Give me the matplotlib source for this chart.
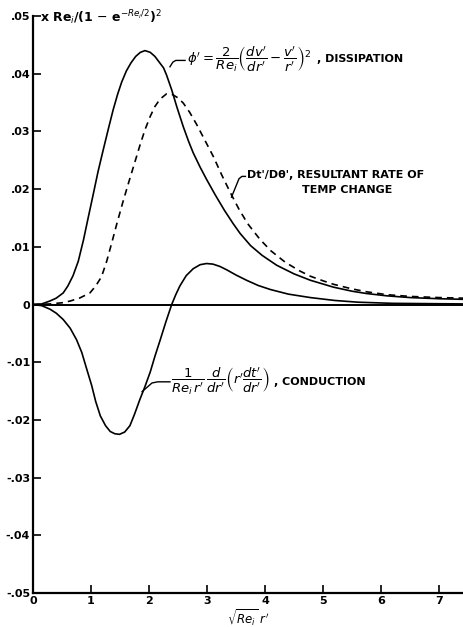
import numpy as np
import matplotlib
matplotlib.use("Agg")
import matplotlib.pyplot as plt

# values, x = sqrt(Re_i) r'
diss_x = [0, 0.15, 0.29, 0.40, 0.52, 0.60, 0.69, 0.78, 0.87, 0.95, 1.04, 1.12, 1.21, 1.30,
          1.38, 1.46, 1.53, 1.61, 1.69, 1.77, 1.85, 1.93, 2.02, 2.10, 2.19, 2.25, 2.30,
          2.39, 2.48, 2.59, 2.68, 2.76, 2.88, 2.99, 3.14, 3.30, 3.45, 3.57, 3.75, 3.95,
          4.20, 4.50, 4.78, 5.18, 5.50, 5.75, 6.10, 6.50, 7.00, 7.41]
diss_y = [0, 0.0001, 0.0006, 0.0011, 0.0020, 0.0032, 0.0050, 0.0075, 0.0112, 0.0150, 0.0192,
          0.0230, 0.0268, 0.0305, 0.0337, 0.0365, 0.0386, 0.0405, 0.0419, 0.0430, 0.0437,
          0.0440, 0.0437, 0.0430, 0.0418, 0.0410, 0.0398, 0.0372, 0.0342, 0.0308, 0.0283,
          0.0263, 0.0238, 0.0217, 0.0190, 0.0163, 0.0140, 0.0123, 0.0102, 0.0085, 0.0068,
          0.0053, 0.0042, 0.0030, 0.0023, 0.0019, 0.0015, 0.0012, 0.0010, 0.0009]

rate_x = [0, 0.30, 0.50, 0.64, 0.80, 0.98, 1.08, 1.18, 1.27, 1.36, 1.45, 1.55, 1.65, 1.75,
          1.84, 1.93, 2.02, 2.10, 2.19, 2.30, 2.40, 2.50, 2.59, 2.70, 2.82, 2.96, 3.11,
          3.25, 3.40, 3.55, 3.70, 3.91, 4.10, 4.35, 4.60, 4.78, 5.00, 5.18, 5.50, 5.75,
          6.10, 6.50, 7.00, 7.41]
rate_y = [0, 0.0001, 0.0003, 0.0006, 0.0011, 0.0020, 0.0032, 0.0048, 0.0075, 0.0108, 0.0142,
          0.0178, 0.0212, 0.0245, 0.0275, 0.0303, 0.0326, 0.0343, 0.0356, 0.0365, 0.0364,
          0.0358, 0.0349, 0.0333, 0.0312, 0.0285, 0.0256, 0.0225, 0.0194, 0.0165, 0.0140,
          0.0113, 0.0093, 0.0073, 0.0058, 0.0049, 0.0041, 0.0035, 0.0027, 0.0022, 0.0017,
          0.0014, 0.0012, 0.0011]

cond_x = [0, 0.15, 0.29, 0.40, 0.52, 0.64, 0.75, 0.84, 0.92, 1.01, 1.08, 1.16, 1.25, 1.33,
          1.41, 1.49, 1.58, 1.67, 1.75, 1.84, 1.93, 2.02, 2.10, 2.19, 2.29, 2.39, 2.46,
          2.53, 2.64, 2.76, 2.88, 2.99, 3.10, 3.22, 3.34, 3.50, 3.68, 3.88, 4.09, 4.40,
          4.78, 5.20, 5.60, 6.20, 7.41]
cond_y = [0, -0.0002, -0.0008, -0.0015, -0.0026, -0.0041, -0.0061, -0.0083, -0.0110, -0.0140,
          -0.0168, -0.0193, -0.0210, -0.0220, -0.0224, -0.0225, -0.0221, -0.0210, -0.0190,
          -0.0165, -0.0142, -0.0117, -0.0090, -0.0062, -0.0030, 0.0, 0.0017, 0.0032, 0.0050,
          0.0062, 0.0069, 0.0071, 0.0070, 0.0066, 0.0060, 0.0051, 0.0042, 0.0033, 0.0026,
          0.0018, 0.0012, 0.0007, 0.0004, 0.0002, 0.0001]

yticks = [-0.05, -0.04, -0.03, -0.02, -0.01, 0, 0.01, 0.02, 0.03, 0.04, 0.05]
ylabels = ['-.05', '-.04', '-.03', '-.02', '-.01', '0', '.01', '.02', '.03', '.04', '.05']
xticks = [0, 1, 2, 3, 4, 5, 6, 7]

plt.rcParams['mathtext.fontset'] = 'dejavusans'

fig = plt.figure(figsize=(4.63, 6.27), dpi=100)
ax = fig.add_axes([0.0713, 0.0542, 0.9287, 0.9203])

ax.plot(diss_x, diss_y, color='black', lw=1.2)
ax.plot(rate_x, rate_y, color='black', lw=1.2, ls=(0, (4, 3)))
ax.plot(cond_x, cond_y, color='black', lw=1.2)
ax.axhline(0, color='black', lw=1.4)

ax.set_xlim(0, 7.41)
ax.set_ylim(-0.05, 0.05)
ax.spines['top'].set_visible(False)
ax.spines['right'].set_visible(False)
ax.spines['left'].set_linewidth(1.6)
ax.spines['bottom'].set_linewidth(1.6)
ax.set_yticks(yticks)
ax.set_yticklabels(ylabels, fontsize=8, fontweight='bold')
ax.set_xticks(xticks)
ax.set_xticklabels([str(t) for t in xticks], fontsize=8, fontweight='bold')
ax.tick_params(axis='both', direction='in', length=6, width=1.2, pad=2)

ax.text(0.12, 0.0497, r"x Re$_i$/(1 $-$ e$^{-Re_i/2}$)$^2$", fontsize=9,
        fontweight='bold', va='center', ha='left')

# leaders and labels
ax.plot([2.36, 2.41, 2.46, 2.62], [0.0412, 0.0420, 0.0423, 0.0423], color='black', lw=1)
ax.text(2.65, 0.0425,
        r"$\phi' = \dfrac{2}{Re_i}\left(\dfrac{dv'}{dr'} - \dfrac{v'}{r'}\right)^2$",
        fontsize=9.5, va='center', ha='left')
ax.text(4.90, 0.0425, ", DISSIPATION", fontsize=8, fontweight='bold',
        va='center', ha='left')

ax.plot([3.42, 3.55, 3.60, 3.66], [0.0186, 0.0218, 0.0222, 0.0222], color='black', lw=1)
ax.text(3.68, 0.0225, "Dt'/D\u03b8', RESULTANT RATE OF", fontsize=8,
        fontweight='bold', va='center', ha='left')
ax.text(4.64, 0.0199, "TEMP CHANGE", fontsize=8, fontweight='bold',
        va='center', ha='left')

ax.plot([1.88, 2.05, 2.15, 2.36], [-0.0151, -0.0136, -0.0134, -0.0134], color='black', lw=1)
ax.text(2.38, -0.0134,
        r"$\dfrac{1}{Re_i\,r'}\,\dfrac{d}{dr'}\left(r'\dfrac{dt'}{dr'}\right)$",
        fontsize=9.5, va='center', ha='left')
ax.text(4.16, -0.0134, ", CONDUCTION", fontsize=8, fontweight='bold',
        va='center', ha='left')

ax.set_xlabel(r"$\sqrt{Re_i}\ r'$", fontsize=8.5, labelpad=1)

fig.savefig("out.png", dpi=100)
